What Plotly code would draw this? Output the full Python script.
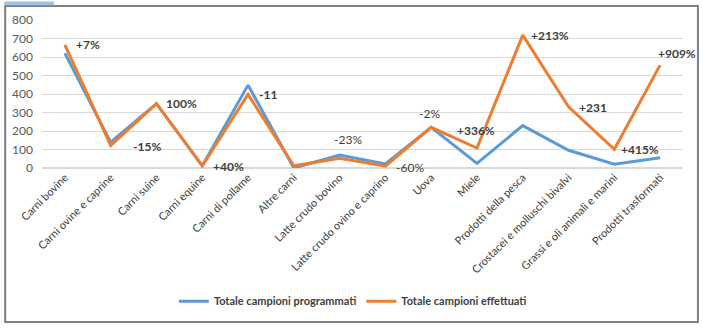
import plotly.graph_objects as go

categories = ["Carni bovine", "Carni ovine e caprine", "Carni suine", "Carni equine",
              "Carni di pollame", "Altre carni", "Latte crudo bovino",
              "Latte crudo ovino e caprino", "Uova", "Miele", "Prodotti della pesca",
              "Crostacei e molluschi bivalvi", "Grassi e oli animali e marini",
              "Prodotti trasformati"]
programmati = [620, 140, 348, 12, 448, 0, 70, 22, 220, 25, 229, 96, 21, 55]
effettuati = [665, 122, 348, 12, 398, 12, 53, 10, 220, 108, 718, 331, 101, 556]

# labels: (category index, text, bold, xshift, yshift)
label_idx = [0, 1, 2, 3, 4, 6, 7, 8, 9, 10, 11, 12, 13]
label_txt = ["+7%", "-15%", "100%", "+40%", "-11", "-23%", "-60%", "-2%", "+336%",
             "+213%", "+231", "+415%", "+909%"]
label_bold = [True, True, True, True, True, False, False, False, True, True, True, True, True]
label_dx = [23, 36, 25, 26, 20, 8, 25, -2, -1, 27, 24, 26, 17]
label_dy = [0, -1, 0, -1, 0, 19, -1, 14, 18, 0, -1, 0, 12]

BLUE = "#5B9BD5"
ORANGE = "#ED7D31"
FONT = "Lato"

fig = go.Figure()
fig.add_trace(go.Scatter(x=categories, y=programmati, mode="lines",
                         name="<b>Totale campioni programmati</b>",
                         line=dict(color=BLUE, width=3)))
fig.add_trace(go.Scatter(x=categories, y=effettuati, mode="lines",
                         name="<b>Totale campioni effettuati</b>",
                         line=dict(color=ORANGE, width=3)))

annotations = []
for i, t, b, dx, dy in zip(label_idx, label_txt, label_bold, label_dx, label_dy):
    yv = effettuati[i]
    annotations.append(dict(x=categories[i], y=yv, xref="x", yref="y",
                            text=f"<b>{t}</b>" if b else t, showarrow=False,
                            xshift=dx, yshift=dy,
                            font=dict(family=FONT, size=12, color="#404040")))

shapes = [
    dict(type="rect", xref="paper", yref="paper", x0=-0.0574, x1=1.0233,
         y0=-1.04, y1=1.095, line=dict(color="#7f7f7f", width=2), layer="below"),
    dict(type="rect", xref="paper", yref="paper", x0=-0.059, x1=0.0186,
         y0=1.10, y1=1.125, line=dict(width=0), fillcolor="#9DC3E6", layer="below"),
]

fig.update_layout(
    width=703, height=330,
    margin=dict(l=38, r=20, t=18, b=162),
    paper_bgcolor="white", plot_bgcolor="white",
    font=dict(family=FONT, color="#404040"),
    showlegend=True,
    legend=dict(orientation="h", x=0.485, xanchor="center", y=-0.9, yanchor="middle",
                font=dict(family=FONT, size=11, color="#404040"),
                itemwidth=30),
    annotations=annotations,
    shapes=shapes,
    xaxis=dict(showgrid=False, showline=False, zeroline=False, tickangle=-45,
               tickfont=dict(family=FONT, size=11, color="#404040"),
               range=[-0.5, 13.5], ticks=""),
    yaxis=dict(range=[0, 800], dtick=100, showgrid=True, gridcolor="#D9D9D9",
               gridwidth=1, zeroline=True, zerolinecolor="#D9D9D9", showline=False,
               tickfont=dict(family=FONT, size=12, color="#595959"), ticks="",
               ticklabelstandoff=8),
)

fig.write_html("out.html")
